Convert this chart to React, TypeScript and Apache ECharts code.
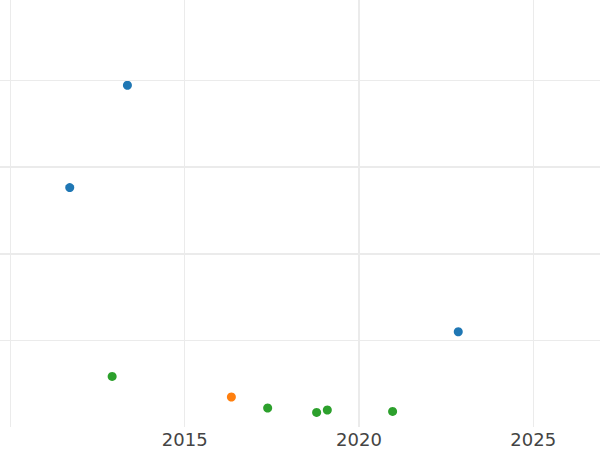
import React, { useEffect, useRef } from "react";
import * as echarts from "echarts";

const blueX = [2013.355, 2011.7, 2022.848];
const blueY = [3.94, 2.76, 1.098];
const orangeX = [2016.338];
const orangeY = [0.346];
const greenX = [2012.917, 2017.379, 2018.784, 2019.091, 2020.964];
const greenY = [0.583, 0.219, 0.168, 0.196, 0.18];

const xTickLabels = [2015, 2020, 2025];
const xMinorGrid = [2010, 2015, 2025];
const xMajorGrid = [2020];
const yMinorGrid = [1, 4];
const yMajorGrid = [2, 3];

const pair = (xs: number[], ys: number[]) => xs.map((x, i) => [x, ys[i]]);

export default function App() {
  const ref = useRef<HTMLDivElement>(null);
  useEffect(() => {
    if (!ref.current) return;
    const chart = echarts.init(ref.current, null, { renderer: "svg" });
    const gridColor = "#ebebeb";
    const lines = [
      ...xMinorGrid.map((v) => ({ xAxis: v, lineStyle: { width: 1, color: gridColor, type: "solid" } })),
      ...xMajorGrid.map((v) => ({ xAxis: v, lineStyle: { width: 2, color: gridColor, type: "solid" } })),
      ...yMinorGrid.map((v) => ({ yAxis: v, lineStyle: { width: 1, color: gridColor, type: "solid" } })),
      ...yMajorGrid.map((v) => ({ yAxis: v, lineStyle: { width: 2, color: gridColor, type: "solid" } })),
    ];
    const dot = (color: string) => ({ color, opacity: 1 });
    chart.setOption({
      animation: false,
      backgroundColor: "#ffffff",
      grid: { left: 0, right: 0, top: 0, bottom: 23, containLabel: false },
      xAxis: {
        type: "value",
        min: 2009.699,
        max: 2026.915,
        axisLine: { show: false },
        axisTick: { show: false },
        splitLine: { show: false },
        axisLabel: {
          customValues: xTickLabels,
          color: "#444444",
          fontSize: 18,
          fontFamily: "DejaVu Sans",
          margin: 3,
          formatter: (v: number) => String(Math.round(v)),
        },
      },
      yAxis: {
        type: "value",
        min: 0,
        max: 4.923,
        axisLine: { show: false },
        axisTick: { show: false },
        splitLine: { show: false },
        axisLabel: { show: false },
      },
      series: [
        {
          type: "scatter",
          data: [],
          z: 1,
          silent: true,
          markLine: {
            silent: true,
            symbol: ["none", "none"],
            label: { show: false },
            emphasis: { disabled: true },
            data: lines,
          },
        },
        {
          type: "scatter",
          z: 3,
          symbolSize: 9,
          itemStyle: dot("#1f77b4"),
          data: pair(blueX, blueY),
        },
        {
          type: "scatter",
          z: 3,
          symbolSize: 9,
          itemStyle: dot("#ff7f0e"),
          data: pair(orangeX, orangeY),
        },
        {
          type: "scatter",
          z: 3,
          symbolSize: 9,
          itemStyle: dot("#2ca02c"),
          data: pair(greenX, greenY),
        },
      ],
    });
    return () => chart.dispose();
  }, []);
  return <div ref={ref} style={{ width: 600, height: 450, position: "fixed", left: 0, top: 0 }} />;
}
